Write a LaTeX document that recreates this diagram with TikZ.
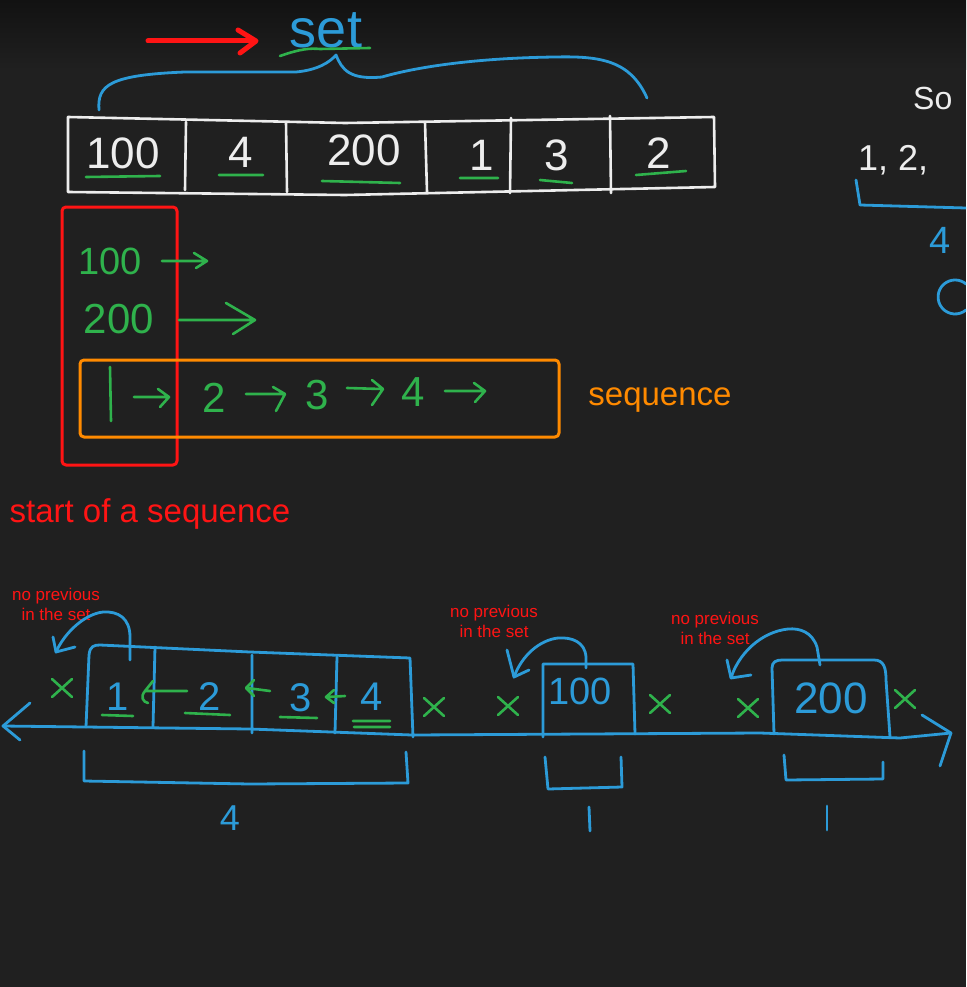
\documentclass[tikz,border=0pt]{standalone}
\usepackage{fontspec}
\setmainfont{Liberation Sans}
\usetikzlibrary{arrows.meta}
\definecolor{bg}{HTML}{202020}
\definecolor{bgtop}{HTML}{121212}
\definecolor{wb}{HTML}{EDEDED}
\definecolor{gr}{HTML}{2FB24C}
\definecolor{bl}{HTML}{2C9BD8}
\definecolor{rd}{HTML}{FF1414}
\definecolor{og}{HTML}{FF8A00}
\begin{document}
\begin{tikzpicture}[x=1pt,y=-1pt,line cap=round,line join=round,
  wl/.style={draw=wb,line width=2.6pt},
  bll/.style={draw=bl,line width=2.8pt},
  gl/.style={draw=gr,line width=2.6pt},
  rdl/.style={draw=rd,line width=3pt},
  ogl/.style={draw=og,line width=3pt},
  hw/.style={inner sep=0pt,font=\fontsize{#1}{#1}\selectfont},
  wtext/.style={hw=#1,text=wb},
  gtext/.style={hw=#1,text=gr},
  btext/.style={hw=#1,text=bl},
  note/.style={inner sep=0pt,text=rd,align=center,font=\fontsize{17}{20}\selectfont},
  xmark/.pic={\draw[gl] (-10,-9) -- (10,9) (10,-9) -- (-10,9);}
]
\useasboundingbox (0,0) rectangle (966,987);
\clip (0,0) rectangle (966,987);
\fill[bg] (0,0) rectangle (966,987);
\shade[top color=bgtop,bottom color=bg] (0,0) rectangle (966,70);

% ---------- top: set ----------
\draw[rdl,line width=5pt] (148,41) -- (254,41);
\draw[rdl,line width=5pt] (238,30) -- (256,41) -- (240,53);
\node[btext=54] (set) at (326,30) {set};
\draw[gl] (280,56) .. controls (300,49) and (310,48) .. (320,49) -- (370,48);
\draw[bll] (99,110) .. controls (97,85) and (110,75) .. (185,72)
  -- (296,72) .. controls (318,70) and (330,62) .. (336,55)
  .. controls (342,70) and (350,80) .. (382,77)
  .. controls (420,66) and (480,58) .. (555,57)
  .. controls (600,56) and (630,60) .. (647,98);

\draw[wl] (68,117) -- (345,123) -- (714,117) -- (715,187) -- (345,195) -- (68,192) -- cycle;
\draw[wl] (186,122) -- (185,190) (286,122) -- (287,192) (425,122) -- (427,192)
  (511,118) -- (510,193) (610,116) -- (611,193);
\node[wtext=44] (s100) at (123,153) {100};
\node[wtext=44] (s4) at (241,152) {4};
\node[wtext=44] (s200) at (364,150) {200};
\node[wtext=44] (s1) at (482,155) {1};
\node[wtext=44] (s3) at (557,155) {3};
\node[wtext=44] (s2) at (659,153) {2};
\draw[gl] (86,177) -- (160,176) (219,175) -- (263,175) (322,181) -- (400,183)
  (460,178) -- (498,178) (540,180) -- (572,183) (636,175) -- (686,171);

% ---------- right edge ----------
\node[wtext=32,anchor=west] (so) at (913,98) {So};
\node[wtext=36,anchor=west] (lst) at (858,160) {1, 2,};
\draw[bll] (856,180) -- (860,205) -- (966,208);
\node[btext=38] (four) at (940,240) {4};
\draw[bll] (966,310) arc (50:310:17);

% ---------- middle ----------
\draw[rdl,rounded corners=4pt] (62,207) rectangle (177,465);
\node[gtext=38] (m100) at (110,261) {100};
\draw[gl] (162,261) -- (206,261) (194,253) -- (207,261) -- (196,268);
\node[gtext=42] (m200) at (119,319) {200};
\draw[gl] (179,320) -- (254,320) (226,303) -- (255,320) -- (233,334);

\draw[ogl,rounded corners=4pt] (80,360) rectangle (559,437);
\draw[gl] (110,367) -- (111,421);
\draw[gl] (134,397) -- (168,397) (158,389) -- (169,397) -- (160,407);
\node[gtext=42] (q2) at (214,398) {2};
\draw[gl] (246,394) -- (284,394) (273,387) -- (285,394) -- (276,411);
\node[gtext=42] (q3) at (317,395) {3};
\draw[gl] (347,388) -- (382,389) (372,380) -- (383,389) -- (372,405);
\node[gtext=42] (q4) at (413,392) {4};
\draw[gl] (445,391) -- (484,391) (474,383) -- (485,391) -- (475,402);

\node[hw=33,text=og] (seq) at (660,400) {sequence};
\node[hw=33,text=rd] (start) at (150,514) {start of a sequence};

% ---------- bottom ----------
\node[note] (n1) at (56,604) {no previous\\in the set};
\node[note] (n2) at (494,621) {no previous\\in the set};
\node[note] (n3) at (715,628) {no previous\\in the set};

% number line
\draw[bll] (3,726) -- (250,729) -- (412,735) -- (760,733) -- (900,738) -- (951,733);
\draw[bll] (30,703) -- (3,726) -- (20,740);
\draw[bll] (922,715) -- (951,733) -- (940,766);

% sequence box
\draw[bll] (86,727) -- (89,655) .. controls (90,646) and (94,645) .. (100,645)
  -- (250,652) -- (410,658) -- (413,737);
\draw[bll] (155,647) -- (153,727) (252,655) -- (252,733) (337,657) -- (335,733);
\node[btext=40] (b1) at (118,697) {1};
\node[btext=40] (b2) at (210,697) {2};
\node[btext=40] (b3) at (301,698) {3};
\node[btext=40] (b4) at (372,697) {4};
\draw[gl] (102,715) -- (133,716) (185,713) -- (230,715) (280,717) -- (317,718)
  (353,721) -- (390,721) (354,727) -- (390,727);
\draw[gl] (187,691) -- (146,691) (153,681) -- (145,691) (145,691) .. controls (140,697) and (143,702) .. (148,703);
\draw[gl] (270,691) -- (247,688) (254,680) -- (246,688) -- (254,696);
\draw[gl] (345,696) -- (327,697) (334,690) -- (326,697) -- (334,703);

% curved arrow from 1
\draw[bll] (130,660) -- (130,637) .. controls (130,618) and (118,611) .. (103,612)
  .. controls (85,614) and (65,632) .. (56,652);
\draw[bll] (53,637) -- (56,652) -- (75,647);

% box 100
\draw[bll] (543,737) -- (543,664) -- (633,664) -- (635,734);
\node[btext=38] (b100) at (580,691) {100};
\draw[bll] (586,668) -- (586,657) .. controls (585,642) and (572,637) .. (558,638)
  .. controls (540,640) and (522,655) .. (514,677);
\draw[bll] (507,650) -- (514,677) -- (529,670);

% box 200
\draw[bll] (774,734) -- (772,668) .. controls (772,662) and (776,660) .. (782,660)
  -- (874,660) .. controls (884,660) and (886,668) .. (886,680) -- (890,737);
\node[btext=44] (b200) at (831,698) {200};
\draw[bll] (820,665) -- (817,647) .. controls (812,632) and (800,628) .. (788,629)
  .. controls (760,632) and (738,655) .. (731,678);
\draw[bll] (727,660) -- (731,678) -- (751,675);

% x marks
\pic at (62,688) {xmark};
\pic at (434,707) {xmark};
\pic at (508,706) {xmark};
\pic at (660,704) {xmark};
\pic at (748,708) {xmark};
\pic at (905,699) {xmark};

% brackets below
\draw[bll] (84,751) -- (84,781) -- (250,784) -- (408,783) -- (406,752);
\node[btext=36] (c4) at (230,818) {4};
\draw[bll] (545,757) -- (548,789) -- (622,787) -- (621,757);
\draw[bll] (589,807) -- (590,831);
\draw[bll] (784,755) -- (786,780) -- (883,779) -- (883,762);
\draw[bll] (827,806) -- (827,830);
\end{tikzpicture}
\end{document}
